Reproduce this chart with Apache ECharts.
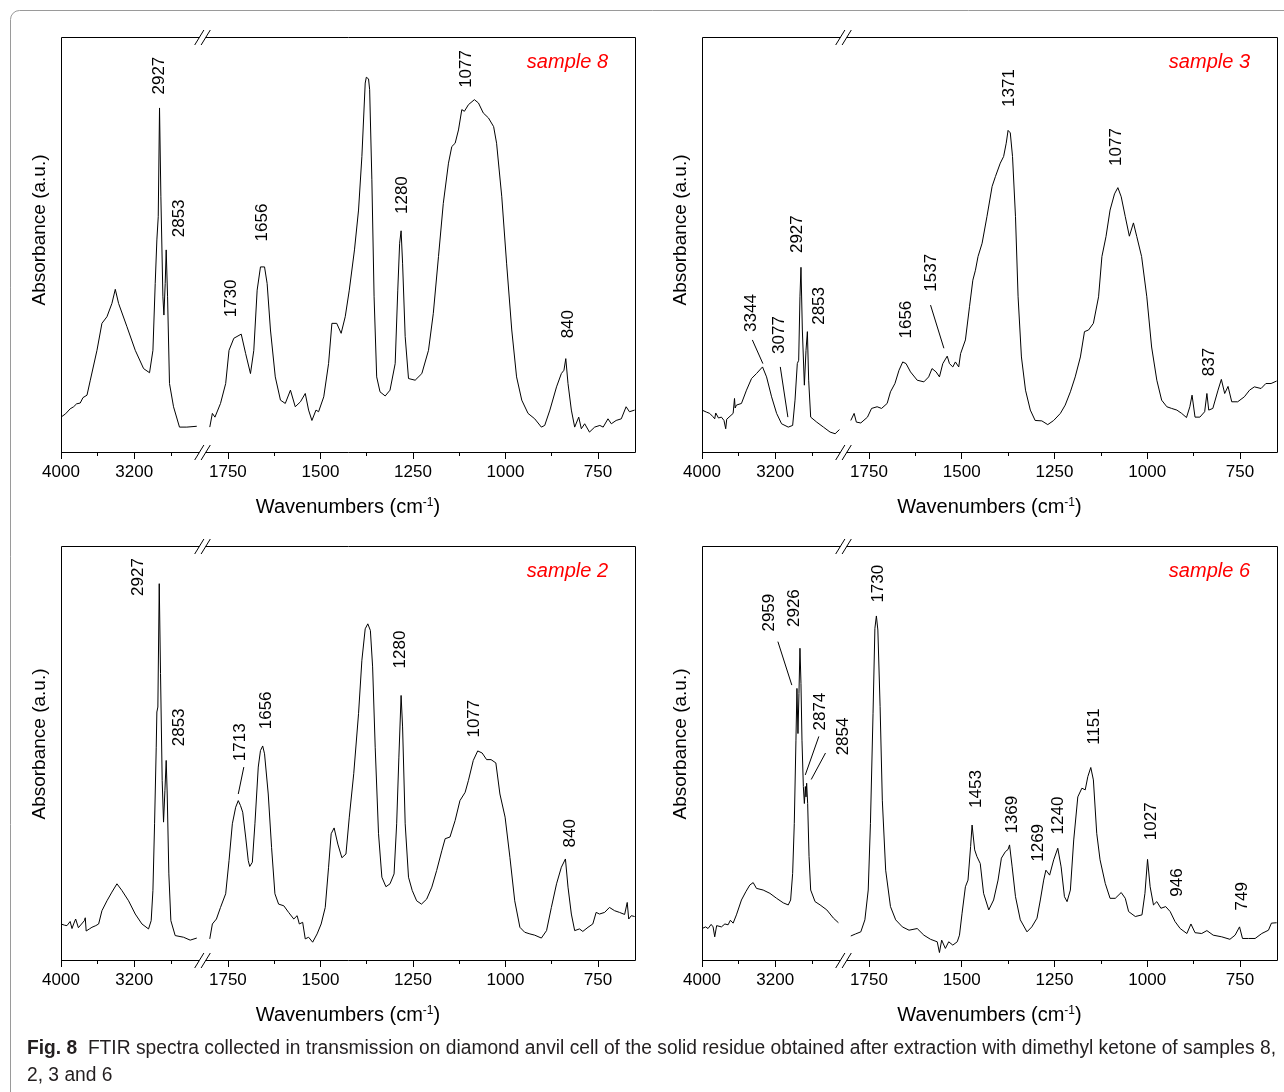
<!DOCTYPE html>
<html lang="en" style="height: 100%">
<head>
  <meta charset="utf-8">
</head>
<body style="height: 100%; margin: 0; background: #fff">
  <div id="container" style="width: 1284px; height: 1092px"></div>
  <script type="text/javascript" src="https://cdn.jsdelivr.net/npm/echarts@6/dist/echarts.min.js"></script>
  <script type="text/javascript">
// spectra: [wavenumber cm-1, absorbance a.u. (0..100 of panel height)]
// "High" = 4000..2460 segment, "Low" = 1820..650 segment
const s8High = [[4000,8.4],[3950,9.2],[3900,10.4],[3862,10.9],[3830,11.6],[3790,11.8],[3760,13.1],[3716,13.7],[3680,17.3],[3607,24.5],[3553,31],[3498,32.6],[3444,35.8],[3407,39.2],[3371,35.8],[3280,30.2],[3189,24.5],[3098,20.1],[3033,19.1],[2996,24.5],[2971,40.6],[2953,51.1],[2938,56.7],[2924,82.9],[2909,61.5],[2887,37.4],[2876,33],[2862,40.6],[2851,48.7],[2836,37.4],[2815,16.5],[2771,10.9],[2706,6],[2626,6],[2517,6.2]];
const s8Low = [[1799,6],[1792,9.3],[1785,8.4],[1770,11.7],[1756,16.5],[1747,24.5],[1734,27.4],[1714,28.4],[1702,23.7],[1689,18.9],[1680,24.5],[1671,39],[1662,44.6],[1651,44.6],[1644,40.6],[1635,29.4],[1622,18.1],[1608,12.5],[1595,11.7],[1581,14.9],[1568,10.9],[1554,12.1],[1541,14.1],[1532,10.1],[1523,7.6],[1512,10.1],[1505,9.7],[1491,13.3],[1478,21.3],[1469,31],[1456,31],[1444,28.6],[1433,32.6],[1422,39],[1408,48.7],[1397,58.3],[1388,71.2],[1379,88.9],[1376,90.3],[1373,90.7],[1370,89.9],[1367,87.3],[1361,65.6],[1355,37.4],[1348,18.1],[1339,14.5],[1325,13.5],[1312,14.9],[1298,21.3],[1291,39],[1286,50.3],[1282,53.3],[1278,45.5],[1271,27.8],[1262,17.7],[1244,17.3],[1226,18.9],[1208,24.5],[1195,33.4],[1181,47.1],[1168,59.9],[1154,69.6],[1145,73.6],[1136,74.4],[1127,77.6],[1118,82.5],[1111,82.1],[1100,83.7],[1084,84.9],[1073,84.1],[1060,81.7],[1046,80.5],[1032,78.4],[1024,74.4],[1010,61.5],[997,45.5],[983,29.4],[970,18.1],[956,12.5],[939,9.3],[921,8],[903,6],[894,6.4],[880,10.1],[862,15.7],[849,18.9],[842,19.7],[837,22.5],[831,16.5],[822,10.1],[813,6],[802,8.4],[795,5.6],[786,6.8],[773,4.8],[759,6],[745,6.4],[736,6],[723,8],[714,6.8],[701,7.6],[687,8],[674,10.9],[665,9.7],[651,10.1]];

const s3High = [[4000,10.1],[3950,9.6],[3916,9.3],[3880,8.5],[3861,8],[3850,9.4],[3820,8.2],[3788,8.4],[3760,7.6],[3741,5.6],[3730,7.9],[3715,8],[3660,9.3],[3645,12.9],[3638,10.6],[3624,11.3],[3569,11.7],[3514,14.9],[3459,17.7],[3405,18.9],[3339,20.5],[3295,18.1],[3240,13.3],[3185,9.3],[3131,6.8],[3058,6],[3010,6.4],[2984,12.5],[2959,21.3],[2944,22.1],[2930,37.4],[2919,44.5],[2904,29.4],[2882,16.1],[2864,24.5],[2849,29],[2835,17.3],[2813,8.4],[2747,7.2],[2674,6],[2601,4.8],[2546,4.4],[2499,5.4]];
const s3Low = [[1799,7.6],[1790,9.3],[1784,7.2],[1772,7],[1754,8.4],[1743,10.5],[1728,10.9],[1716,10.5],[1701,11.7],[1692,14.5],[1680,16.5],[1669,19.7],[1659,21.7],[1650,21.3],[1638,19.3],[1620,17.3],[1602,16.9],[1589,18.1],[1580,20.1],[1569,19.3],[1560,18.1],[1551,21.3],[1539,23.1],[1533,21.3],[1524,20.5],[1517,21.7],[1508,20.5],[1503,23.7],[1490,27],[1479,35],[1470,41.4],[1463,43.8],[1456,47.1],[1445,50.3],[1432,56.7],[1418,64],[1409,66.4],[1396,69.6],[1387,71.2],[1380,74.4],[1375,77.5],[1369,76.9],[1363,71.2],[1355,56.7],[1348,37.4],[1339,22.9],[1328,14.9],[1315,10.1],[1302,7.6],[1284,7.5],[1268,6.6],[1252,7.6],[1234,9.3],[1221,11.3],[1207,14.5],[1194,18.1],[1180,22.9],[1169,29],[1158,29.4],[1145,31],[1131,37.4],[1122,47.1],[1111,51.9],[1100,58.3],[1088,62.2],[1079,63.7],[1070,61.5],[1059,56.7],[1048,52],[1037,55.2],[1028,51.9],[1015,47.1],[1001,37.4],[988,25.3],[974,17.3],[961,12.5],[947,10.9],[934,10.5],[920,10.1],[907,9.3],[894,8.3],[885,10.9],[879,13.7],[871,8.4],[858,8.4],[845,9.7],[839,14.1],[834,10.1],[823,10.5],[809,14.9],[800,17.5],[791,14.1],[782,15.8],[772,12.1],[756,12.1],[738,13.3],[724,14.9],[711,15.7],[693,15.3],[680,16.5],[666,16.5],[651,17.1]];

const s2High = [[4000,8.7],[3960,8.4],[3935,8.3],[3900,9.3],[3880,7.6],[3862,8.7],[3840,9.9],[3810,7.8],[3789,7.9],[3745,9.5],[3735,10.2],[3725,7],[3716,7.1],[3690,7.5],[3662,7.9],[3620,8.3],[3589,8.7],[3553,11.9],[3498,14.3],[3444,16.4],[3389,18.4],[3335,16.8],[3262,14.3],[3189,11.1],[3116,8.7],[3044,7.5],[3015,9.5],[2996,16.8],[2978,32.9],[2960,51.4],[2953,59.9],[2942,61.1],[2927,90.9],[2913,69.2],[2895,43.4],[2880,33.3],[2865,40.9],[2851,48.2],[2840,40.1],[2822,20.8],[2800,9.5],[2753,5.9],[2662,5.5],[2589,4.8],[2517,5.3]];
const s2Low = [[1799,5.1],[1792,8.7],[1781,9.9],[1770,12.7],[1756,16],[1747,24],[1738,32.9],[1729,36.9],[1722,38.5],[1716,37.3],[1710,35.7],[1702,29.7],[1695,24],[1691,22.6],[1684,23.6],[1677,32.9],[1668,46.6],[1662,50.6],[1656,51.7],[1651,49.8],[1641,40.1],[1632,27.2],[1623,16],[1613,13.5],[1599,13.1],[1586,11.5],[1572,9.9],[1563,10.7],[1557,8.7],[1548,9.1],[1541,5.1],[1532,5.5],[1521,4.3],[1509,6.3],[1498,8.7],[1487,12.7],[1478,22.4],[1471,30.5],[1463,31.9],[1453,28],[1442,24.7],[1431,25.6],[1422,34.5],[1410,45],[1397,59.5],[1388,72.4],[1379,80],[1372,81.2],[1365,79.6],[1359,70.8],[1352,51.4],[1343,30.5],[1334,20],[1323,17.7],[1312,18.4],[1301,20.8],[1294,32.9],[1288,49],[1282,63.9],[1278,56.3],[1271,32.9],[1262,20],[1252,16.8],[1240,14.3],[1227,13.5],[1213,14.7],[1199,17.6],[1186,21.6],[1172,26.4],[1163,29.3],[1150,29.7],[1136,33.7],[1123,38.5],[1109,40.5],[1100,43.4],[1087,48.2],[1075,50.5],[1063,50],[1051,48.4],[1039,48.4],[1026,47.6],[1015,40.1],[1001,34.5],[988,24.8],[975,14.3],[961,7.9],[948,6.7],[934,6.3],[921,6],[903,5.3],[889,7.1],[876,12.7],[862,18.4],[849,22.4],[838,24.4],[831,17.6],[822,11.1],[813,7.1],[800,7.5],[791,6.9],[777,7.9],[764,8.7],[755,11.5],[746,11.1],[732,11.5],[719,12.7],[705,11.9],[692,11.5],[678,11],[671,13.9],[667,9.9],[660,10.7],[651,10.5]];

const s6High = [[4000,7.6],[3960,8],[3934,7.6],[3900,8.6],[3879,8],[3861,5.6],[3840,8.3],[3788,8],[3750,8.7],[3715,8.5],[3690,9.6],[3660,8.9],[3624,10.9],[3569,14.5],[3521,16.5],[3478,18.1],[3441,18.7],[3405,17.3],[3332,16.9],[3258,16.1],[3185,14.9],[3112,13.8],[3058,13.3],[3032,14.5],[3010,20.9],[2992,33],[2974,53.1],[2963,65.6],[2952,54.7],[2941,64.4],[2930,75.3],[2919,66.8],[2908,53.1],[2893,41.9],[2882,37.8],[2871,41.9],[2864,39.4],[2857,42.7],[2846,37.8],[2831,25],[2813,16.9],[2765,14.1],[2710,13.3],[2637,12.1],[2564,10.1],[2510,9]];
const s6Low = [[1799,5.8],[1786,6.3],[1772,6.8],[1761,9.7],[1752,16.9],[1746,33],[1739,59.6],[1734,80.1],[1730,83.1],[1726,79.7],[1720,61.2],[1714,38.6],[1705,21.7],[1692,12.9],[1678,9.7],[1660,8],[1642,7.2],[1620,7.6],[1602,6],[1584,5],[1566,4.4],[1560,1.8],[1554,4.8],[1544,2.8],[1535,4.4],[1524,3.6],[1512,4.4],[1506,6],[1499,11.3],[1490,17.7],[1483,19.3],[1476,27.4],[1472,32.6],[1465,26.6],[1459,25],[1450,23.3],[1441,16.1],[1427,12.1],[1414,14.5],[1402,19.3],[1393,24.6],[1382,26.2],[1375,26.7],[1371,27.8],[1364,22.5],[1355,15.3],[1342,9.7],[1324,6.8],[1311,8],[1297,10.1],[1288,14.5],[1279,19.3],[1273,21.7],[1263,20.5],[1252,24.2],[1241,27],[1232,22.5],[1223,15.3],[1216,14.1],[1207,16.9],[1198,29],[1187,39.4],[1176,41.5],[1167,41.1],[1160,44.3],[1152,46.5],[1145,43.5],[1136,30.6],[1127,24.2],[1113,18.5],[1100,14.9],[1086,14.9],[1070,16.3],[1059,14.9],[1050,11.7],[1032,10.5],[1014,10.9],[1006,16.1],[999,24.3],[992,17.7],[983,13.3],[974,14.1],[970,14.5],[963,12.5],[950,12.9],[938,11.7],[925,9.3],[911,7.6],[893,6.4],[882,8.7],[871,6.6],[853,6.4],[839,7.1],[822,6],[799,5.6],[777,5],[763,6],[751,8],[743,5.2],[727,5.2],[709,5.2],[691,6.4],[673,7.2],[665,8.9],[651,9]];

// peak labels: [text, wavenumber, height] and leader lines
const ann8High = [['2927', 2925, 90.7], ['2853', 2707, 56.3]];
const ann8Low = [['1730', 1740, 37], ['1656', 1657, 55.3], ['1280', 1280, 61.9], ['1077', 1105, 92.3], ['840', 829, 30.8]];
const ann3High = [['3344', 3461, 33.5], ['3077', 3160, 28.2], ['2927', 2964, 52.5], ['2853', 2724, 35.2]];
const ann3Low = [['1656', 1649, 31.9], ['1537', 1581, 43.2], ['1371', 1371, 87.7], ['1077', 1082, 73.5], ['837', 833, 21.7]];
const ann2High = [['2927', 3154, 92.5], ['2853', 2707, 56.2]];
const ann2Low = [['1713', 1716, 52.6], ['1656', 1647, 60.3], ['1280', 1284, 75], ['1077', 1084, 58.3], ['840', 826, 30.6]];
const ann6High = [['2959', 3262, 83.9], ['2926', 2989, 85], ['2874', 2710, 60]];
const ann6Low = [['2854', 1819, 54], ['1730', 1725, 90.9], ['1453', 1461, 41.3], ['1369', 1364, 35.1], ['1269', 1293, 28.3], ['1240', 1240, 34.9], ['1151', 1142, 56.4], ['1027', 989, 33.5], ['946', 920, 18.7], ['749', 744, 15.4]];

const lead3High = [[[3450, 27], [3335, 21.3]], [[3145, 20.5], [3062, 8.4]]];
const lead3Low = [[[1584, 35.4], [1548, 25]]];
const lead2Low = [[[1707, 46.6], [1722, 40.1]]];
const lead6High = [[[3171, 76.9], [3019, 66.4]], [[2724, 54], [2872, 44.7]], [[2651, 50], [2807, 43.6]]];

const highMajor = [4000, 3200];
const highMinor = [3600, 2800];
const lowMajor = [1750, 1500, 1250, 1000, 750];
const lowMinor = [1625, 1375, 1125, 875];

const panels = [
  { title: 'sample 8', high: s8High, low: s8Low, annHigh: ann8High, annLow: ann8Low, leadHigh: [], leadLow: [], col: 0, row: 0 },
  { title: 'sample 3', high: s3High, low: s3Low, annHigh: ann3High, annLow: ann3Low, leadHigh: lead3High, leadLow: lead3Low, col: 1, row: 0 },
  { title: 'sample 2', high: s2High, low: s2Low, annHigh: ann2High, annLow: ann2Low, leadHigh: [], leadLow: lead2Low, col: 0, row: 1 },
  { title: 'sample 6', high: s6High, low: s6Low, annHigh: ann6High, annLow: ann6Low, leadHigh: lead6High, leadLow: [], col: 1, row: 1 }
];

const FONT = "'Liberation Sans', Arial, sans-serif";
const COL_L = [61, 702], COL_R = [635, 1277];
const ROW_T = [37, 546], ROW_B = [452, 960];
const YNAME_DY = [193, 198];
const BREAK = 141;

var dom = document.getElementById('container');
var myChart = echarts.init(dom, null, { renderer: 'canvas' });

const grid = [], xAxis = [], yAxis = [], series = [], graphic = [];

function marks(ann, lead) {
  return {
    markPoint: {
      symbol: 'circle',
      symbolSize: 1,
      silent: true,
      itemStyle: { color: 'rgba(0,0,0,0)' },
      label: {
        show: true, position: 'inside', rotate: 90, color: '#000',
        fontSize: 17, fontFamily: FONT, formatter: function (p) { return p.name; }
      },
      data: ann.map(function (a) { return { name: a[0], coord: [a[1], a[2]] }; })
    },
    markLine: {
      silent: true,
      symbol: ['none', 'none'],
      label: { show: false },
      lineStyle: { color: '#000', width: 1, type: 'solid' },
      data: lead.map(function (l) { return [{ coord: l[0] }, { coord: l[1] }]; })
    }
  };
}

function slashes(bx, y) {
  return [
    { type: 'rect', shape: { x: bx - 3, y: y - 2, width: 6, height: 4 }, style: { fill: '#fff' } },
    { type: 'line', shape: { x1: bx - 7.8, y1: y + 7.5, x2: bx + 1.4, y2: y - 7.5 }, style: { stroke: '#000', lineWidth: 1 } },
    { type: 'line', shape: { x1: bx - 1.4, y1: y + 7.5, x2: bx + 7.8, y2: y - 7.5 }, style: { stroke: '#000', lineWidth: 1 } }
  ];
}

function makeXAxis(gridIndex, min, max, ticks, labelled, tickLen) {
  return {
    gridIndex: gridIndex, type: 'value', position: 'bottom', inverse: true, min: min, max: max,
    axisLine: { show: false },
    splitLine: { show: false },
    axisTick: { show: true, length: tickLen, customValues: ticks, lineStyle: { color: '#000', width: 1 } },
    axisLabel: {
      show: labelled, customValues: ticks, color: '#000', fontSize: 17, fontFamily: FONT, margin: 12,
      formatter: function (v) { return String(v); }
    }
  };
}

panels.forEach(function (p, i) {
  const L = COL_L[p.col], R = COL_R[p.col], T = ROW_T[p.row], B = ROW_B[p.row];
  const gHigh = 2 * i, gLow = 2 * i + 1;
  grid.push({ left: L, top: T, width: BREAK, height: B - T });
  grid.push({ left: L + BREAK, top: T, width: R - L - BREAK, height: B - T });

  const xBase = xAxis.length;
  xAxis.push(makeXAxis(gHigh, 2460, 4000, highMajor, true, 7));
  xAxis.push(makeXAxis(gLow, 650, 1820, lowMajor, true, 7));
  xAxis.push(makeXAxis(gHigh, 2460, 4000, highMinor, false, 4));
  xAxis.push(makeXAxis(gLow, 650, 1820, lowMinor, false, 4));
  yAxis.push({ gridIndex: gHigh, type: 'value', min: 0, max: 100, show: false });
  yAxis.push({ gridIndex: gLow, type: 'value', min: 0, max: 100, show: false });

  const lineStyle = { color: '#000', width: 1 };
  series.push(Object.assign({
    type: 'line', xAxisIndex: xBase, yAxisIndex: gHigh, data: p.high,
    showSymbol: false, lineStyle: lineStyle, silent: true
  }, marks(p.annHigh, p.leadHigh)));
  series.push(Object.assign({
    type: 'line', xAxisIndex: xBase + 1, yAxisIndex: gLow, data: p.low,
    showSymbol: false, lineStyle: lineStyle, silent: true
  }, marks(p.annLow, p.leadLow)));

  graphic.push({
    type: 'rect', shape: { x: L + 0.5, y: T + 0.5, width: R - L, height: B - T },
    style: { fill: 'none', stroke: '#000', lineWidth: 1 }
  });
  Array.prototype.push.apply(graphic, slashes(L + BREAK + 0.5, T + 0.5));
  Array.prototype.push.apply(graphic, slashes(L + BREAK + 0.5, B + 0.5));
  graphic.push({
    type: 'text', x: (L + R) / 2, y: B + 55,
    style: {
      text: '{a|Wavenumbers (cm}{s|-1}{a|)}', align: 'center', verticalAlign: 'middle', fill: '#000',
      rich: {
        a: { fontSize: 20, fontFamily: FONT, fill: '#000' },
        s: { fontSize: 12, fontFamily: FONT, fill: '#000', verticalAlign: 'top' }
      }
    }
  });
  graphic.push({
    type: 'text', x: L - 21, y: T + YNAME_DY[p.row], rotation: Math.PI / 2,
    style: {
      text: 'Absorbance (a.u.)', align: 'center', verticalAlign: 'middle', fill: '#000',
      fontSize: 19, fontFamily: FONT
    }
  });
  graphic.push({
    type: 'text', x: R - 27, y: T + 25,
    style: {
      text: p.title, align: 'right', verticalAlign: 'middle', fill: '#ff0000',
      font: 'italic 20px ' + FONT
    }
  });
});

graphic.unshift({
  type: 'rect', shape: { x: 10.5, y: 10.5, width: 1300, height: 1110, r: 9 },
  style: { fill: 'none', stroke: '#9a9a9a', lineWidth: 1 }
});

// caption, squeezed horizontally to the width of the original condensed face
const CAP_BOLD = 'Fig. 8';
const CAP_REST = '  FTIR spectra collected in transmission on diamond anvil cell of the solid residue obtained after extraction with dimethyl ketone of samples 8,';
const measureCtx = document.createElement('canvas').getContext('2d');
function textWidth(txt, font) { measureCtx.font = font; return measureCtx.measureText(txt).width; }
const capWidth = textWidth(CAP_BOLD, 'bold 20px ' + FONT) + textWidth(CAP_REST, '20px ' + FONT);
const capScale = 1249 / capWidth;
graphic.push({
  type: 'text', x: 27, y: 1048, scaleX: capScale,
  style: {
    text: '{b|' + CAP_BOLD + '}{r|' + CAP_REST + '}', verticalAlign: 'middle',
    rich: {
      b: { fontWeight: 'bold', fontSize: 20, fontFamily: FONT, fill: '#231f20' },
      r: { fontSize: 20, fontFamily: FONT, fill: '#231f20' }
    }
  }
});
graphic.push({
  type: 'text', x: 27, y: 1075, scaleX: capScale,
  style: { text: '2, 3 and 6', verticalAlign: 'middle', fill: '#231f20', fontSize: 20, fontFamily: FONT }
});

var option = {
  animation: false,
  backgroundColor: '#fff',
  grid: grid,
  xAxis: xAxis,
  yAxis: yAxis,
  series: series,
  graphic: graphic
};

myChart.setOption(option);
window.addEventListener('resize', myChart.resize);
  </script>
</body>
</html>
